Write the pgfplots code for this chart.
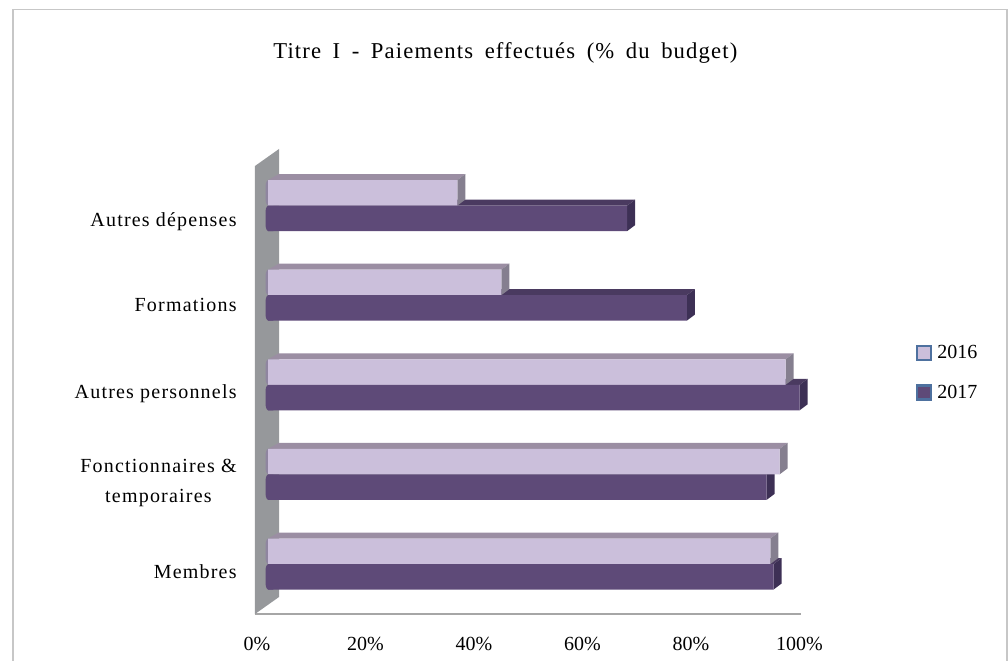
\documentclass[border=0pt]{standalone}
\usepackage{fontspec}
\setmainfont{Liberation Serif}[LetterSpace=6]
\newfontfamily\numfont{Liberation Serif}
\newfontfamily\titlefont{Liberation Serif}[LetterSpace=5,WordSpace=1.7]
\usepackage{pgfplots}
\pgfplotsset{compat=1.18}

\definecolor{lightfront}{HTML}{CBBFDB}
\definecolor{lighttop}{HTML}{9B8EA3}
\definecolor{lightside}{HTML}{857F8F}
\definecolor{lightcap}{HTML}{8F85A0}
\definecolor{darkfront}{HTML}{5E4A78}
\definecolor{darktop}{HTML}{4A3A60}
\definecolor{darkside}{HTML}{3D3055}
\definecolor{wallgray}{HTML}{96989B}
\definecolor{legendblue}{HTML}{4E719F}

% #1 value, #2 top edge of the bar, #3 top colour, #4 side colour
\newcommand{\depth}[4]{%
  \pgfmathsetmacro\xa{#1+1.48}%
  \pgfmathsetmacro\ya{#2+0.067}%
  \pgfmathsetmacro\yb{#2-0.2846}%
  \pgfmathsetmacro\yc{#2-0.2846+0.067}%
  \addplot[forget plot,fill=#3,draw=none,xshift=8.25pt] coordinates {(0,#2) (#1,#2) (\xa,\ya) (2,\ya)};
  \addplot[forget plot,fill=#4,draw=none,xshift=8.25pt] coordinates {(#1,#2) (\xa,\ya) (\xa,\yc) (#1,\yb)};
}
% rounded left end of a bar
\newcommand{\barcap}[2]{%
  \pgfmathsetmacro\ta{#1-0.015}%
  \pgfmathsetmacro\tb{#1-0.04}%
  \pgfmathsetmacro\tc{#1-0.07}%
  \pgfmathsetmacro\ba{#1-0.2846+0.07}%
  \pgfmathsetmacro\bb{#1-0.2846+0.04}%
  \pgfmathsetmacro\bc{#1-0.2846+0.015}%
  \pgfmathsetmacro\yb{#1-0.2846}%
  \addplot[forget plot,fill=#2,draw=none,xshift=8.25pt] coordinates {(1,#1) (0,#1) (-0.25,\ta) (-0.4,\tb) (-0.45,\tc) (-0.45,\ba) (-0.4,\bb) (-0.25,\bc) (0,\yb) (1,\yb)};
}

\begin{document}
\begin{tikzpicture}
  \path[use as bounding box] (0,0) rectangle (756pt,-495.75pt);
  \draw[color=black!22,line width=0.9pt] (9.7pt,-495.75pt) -- (9.7pt,-7.3pt) -- (755.2pt,-7.3pt) -- (755.2pt,-495.75pt);
  \node[font=\titlefont\fontsize{17}{20}\selectfont] at (379pt,-40pt) {Titre I - Paiements effectués (\% du budget)};
  \begin{axis}[
    at={(191.25pt,-460.5pt)},anchor=south west,
    scale only axis,width=409.5pt,height=336.75pt,
    xmin=-0.37,xmax=100.28,ymin=-0.558,ymax=4.453,
    clip=false,
    axis x line=bottom,axis y line=none,
    axis line style={-,color=black!35,line width=0.9pt},
    major tick length=0pt,
    xtick={0,20,40,60,80,100},
    xticklabel={\pgfmathprintnumber{\tick}\%},
    /pgf/number format/assume math mode=true,
    xticklabel style={font=\numfont\fontsize{15}{18}\selectfont,yshift=-14pt},
    legend style={at={(1.21,0.537)},anchor=west,draw=none,fill=none,
      font=\numfont\fontsize{15}{18}\selectfont,row sep=14.5pt,inner sep=0pt,
      legend cell align=left},
  ]
    % wall
    \addplot[forget plot,fill=wallgray,draw=none] coordinates {(-0.37,4.442) (4.06,4.632) (4.06,-0.368) (-0.37,-0.558)};

    % category labels
    \node[anchor=east,font=\fontsize{15}{18}\selectfont,yshift=-6pt] at (axis cs:-2.9,0) {Membres};
    \node[anchor=east,align=center,font=\fontsize{15}{23}\selectfont,yshift=-6.5pt] at (axis cs:-2.9,1) {Fonctionnaires \&\\temporaires};
    \node[anchor=east,font=\fontsize{15}{18}\selectfont,yshift=-7pt] at (axis cs:-2.9,2) {Autres personnels};
    \node[anchor=east,font=\fontsize{15}{18}\selectfont,yshift=-7pt] at (axis cs:-2.9,3) {Formations};
    \node[anchor=east,font=\fontsize{15}{18}\selectfont,yshift=-12pt] at (axis cs:-2.9,4) {Autres dépenses};

    % depth faces, dark series first
    \depth{93.2}{0}{darktop}{darkside}
    \depth{91.9}{1}{darktop}{darkside}
    \depth{98.0}{2}{darktop}{darkside}
    \depth{77.2}{3}{darktop}{darkside}
    \depth{66.2}{4}{darktop}{darkside}

    \depth{92.6}{0.2846}{lighttop}{lightside}
    \depth{94.3}{1.2846}{lighttop}{lightside}
    \depth{95.4}{2.2846}{lighttop}{lightside}
    \depth{43.0}{3.2846}{lighttop}{lightside}
    \depth{34.9}{4.2846}{lighttop}{lightside}

    \barcap{0.2846}{lightcap}
    \barcap{1.2846}{lightcap}
    \barcap{2.2846}{lightcap}
    \barcap{3.2846}{lightcap}
    \barcap{4.2846}{lightcap}
    \barcap{0}{darkfront}
    \barcap{1}{darkfront}
    \barcap{2}{darkfront}
    \barcap{3}{darkfront}
    \barcap{4}{darkfront}

    % front faces
    \addplot[xbar,bar width=19.125pt,bar shift=9.56pt,xshift=8.25pt,fill=lightfront,draw=none,
      area legend,legend image code/.code={\draw[draw=legendblue,fill=lightfront,line width=1.6pt] (0pt,-5pt) rectangle (10.5pt,5.5pt);}]
      coordinates {(92.6,0) (94.3,1) (95.4,2) (43.0,3) (34.9,4)};
    \addlegendentry{\hspace{2pt}2016}
    \addplot[xbar,bar width=19.125pt,bar shift=-9.56pt,xshift=8.25pt,fill=darkfront,draw=none,
      area legend,legend image code/.code={\draw[draw=legendblue,fill=darkfront,line width=1.6pt] (0pt,-5pt) rectangle (10.5pt,5.5pt);}]
      coordinates {(93.2,0) (91.9,1) (98.0,2) (77.2,3) (66.2,4)};
    \addlegendentry{\hspace{2pt}2017}
  \end{axis}
\end{tikzpicture}
\end{document}
